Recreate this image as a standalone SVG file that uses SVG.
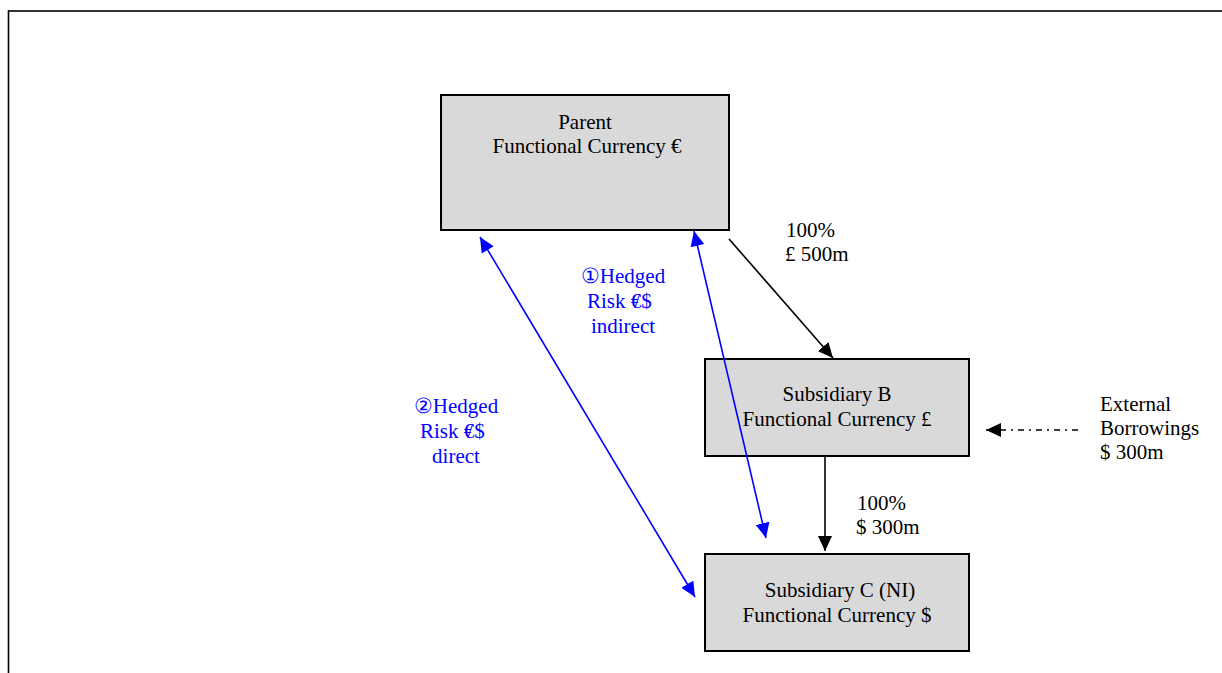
<svg xmlns="http://www.w3.org/2000/svg" width="1222" height="673" viewBox="0 0 1222 673">
<style>
.box{fill:#d9d9d9;stroke:#000;stroke-width:2}
.t{font-family:"Liberation Serif","Times New Roman",serif;font-size:21px;fill:#000}
.b{fill:#0000ff}
.m{text-anchor:middle}
.blk{stroke:#000;stroke-width:1.6;fill:none}
.blu{stroke:#0000ff;stroke-width:1.6;fill:none}
</style>
<defs>
<marker id="ab" markerUnits="userSpaceOnUse" markerWidth="16" markerHeight="14" refX="15" refY="7" orient="auto"><path d="M0,0 L15,7 L0,14 Z" fill="#000"/></marker>
<marker id="au" markerUnits="userSpaceOnUse" markerWidth="16" markerHeight="14" refX="15" refY="7" orient="auto"><path d="M0,0 L15,7 L0,14 Z" fill="#0000ff"/></marker>
<marker id="aus" markerUnits="userSpaceOnUse" markerWidth="16" markerHeight="14" refX="0" refY="7" orient="auto"><path d="M15,0 L0,7 L15,14 Z" fill="#0000ff"/></marker>
</defs>
<rect x="0" y="0" width="1222" height="673" fill="#fff"/>
<rect x="8.5" y="11" width="1240" height="700" fill="none" stroke="#000" stroke-width="1.6"/>
<g id="parent"><rect class="box" x="441" y="95" width="288" height="135"/>
<text class="t m" x="585" y="129">Parent</text>
<text class="t m" x="587" y="153">Functional Currency €</text></g>
<g id="subB"><rect class="box" x="705" y="359" width="264" height="97"/>
<text class="t m" x="837" y="401">Subsidiary B</text>
<text class="t m" x="837" y="426">Functional Currency £</text></g>
<g id="subC"><rect class="box" x="705" y="554" width="264" height="97"/>
<text class="t m" x="840" y="597">Subsidiary C (NI)</text>
<text class="t m" x="837" y="622">Functional Currency $</text></g>
<g id="connectors">
<line class="blk" x1="729" y1="239" x2="833" y2="358" marker-end="url(#ab)"/>
<line class="blk" x1="825" y1="456" x2="825" y2="551" marker-end="url(#ab)"/>
<line class="blk" x1="1078" y1="430" x2="986" y2="430" stroke-dasharray="6,5,2,5" marker-end="url(#ab)"/>
<line class="blu" x1="694" y1="231" x2="766" y2="538" marker-start="url(#aus)" marker-end="url(#au)"/>
<line class="blu" x1="480" y1="237" x2="695" y2="597" marker-start="url(#aus)" marker-end="url(#au)"/>
</g>
<g id="labels">
<text class="t" x="786" y="237">100%</text>
<text class="t" x="785" y="261">£ 500m</text>
<text class="t" x="857" y="510">100%</text>
<text class="t" x="856" y="534">$ 300m</text>
<text class="t" x="1100" y="411">External</text>
<text class="t" x="1100" y="435">Borrowings</text>
<text class="t" x="1100" y="459">$ 300m</text>
<text class="t b m" x="623" y="283">①Hedged</text>
<text class="t b" x="587" y="308">Risk <tspan letter-spacing="-7">€</tspan><tspan letter-spacing="1.2">/</tspan>$</text>
<text class="t b m" x="623" y="333">indirect</text>
<text class="t b m" x="456" y="413">②Hedged</text>
<text class="t b" x="420" y="438">Risk <tspan letter-spacing="-7">€</tspan><tspan letter-spacing="1.2">/</tspan>$</text>
<text class="t b m" x="456" y="463">direct</text>
</g>
</svg>
